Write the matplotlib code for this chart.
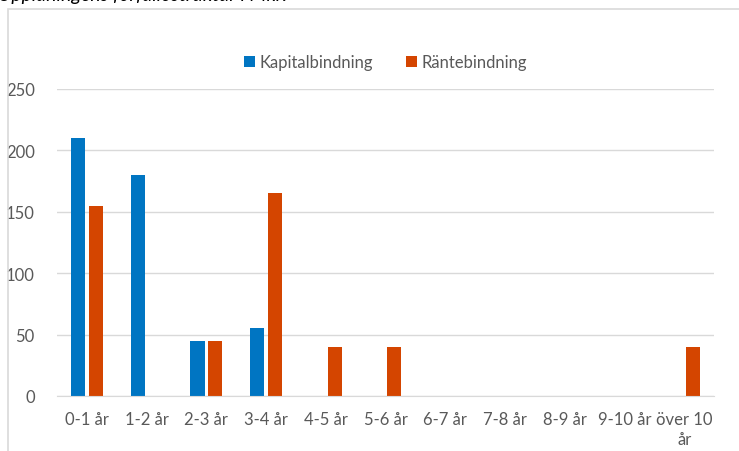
import matplotlib.pyplot as plt
import numpy as np
from matplotlib.patches import Rectangle

kategorier = ['0-1 år', '1-2 år', '2-3 år', '3-4 år', '4-5 år', '5-6 år',
              '6-7 år', '7-8 år', '8-9 år', '9-10 år', 'över 10\når']
kapital = [210, 180, 45, 55, 0, 0, 0, 0, 0, 0, 0]
ranta = [155, 0, 45, 165, 40, 40, 0, 0, 0, 0, 40]

plt.rcParams['font.family'] = ['Lato', 'DejaVu Sans']
gra = '#595959'

fig = plt.figure(figsize=(7.39, 4.52), dpi=100)
W, H = 739, 452
ax = fig.add_axes([57 / W, 1 - 397 / H, (714 - 57) / W, (397 - 90) / H])

# ram runt diagrammet (höger/nederkant utanför bilden)
fig.patches.append(Rectangle((8 / W, -0.1), 1.2, 1 - 10 / H + 0.1,
                             transform=fig.transFigure, fill=False,
                             edgecolor='#D9D9D9', lw=1.2))

# avklippt rubrik överst
fig.text(-2 / W, 1 + 4 / H, 'Upplåningens förfallostruktur i Mkr.',
         fontsize=14, style='italic', color='black', va='center')

x = np.arange(len(kategorier))
b = 0.235
ax.bar(x - b / 2 - 0.03, kapital, b, color='#0075C2', label='Kapitalbindning')
ax.bar(x + b / 2 + 0.03, ranta, b, color='#D44500', label='Räntebindning')

ax.set_xlim(-0.5, len(kategorier) - 0.5)
ax.set_ylim(0, 250)
ax.set_yticks([0, 50, 100, 150, 200, 250])
ax.yaxis.grid(True, color='#D9D9D9', lw=1)
ax.set_axisbelow(True)
for s in ['top', 'right', 'left']:
    ax.spines[s].set_visible(False)
ax.spines['bottom'].set_color('#D9D9D9')
ax.tick_params(length=0, colors=gra, labelsize=12, pad=11)
ax.tick_params(axis='y', pad=16)
ax.set_xticks(x)
ax.set_xticklabels(kategorier, linespacing=1.3)

ax.legend(loc='center', bbox_to_anchor=(0.5, 1 + (90 - 63) / (397 - 90)),
          ncol=2, frameon=False, handlelength=0.65, handleheight=0.65,
          handletextpad=0.25, columnspacing=2.0, labelcolor=gra, fontsize=12)

fig.savefig('out.png', dpi=100)
